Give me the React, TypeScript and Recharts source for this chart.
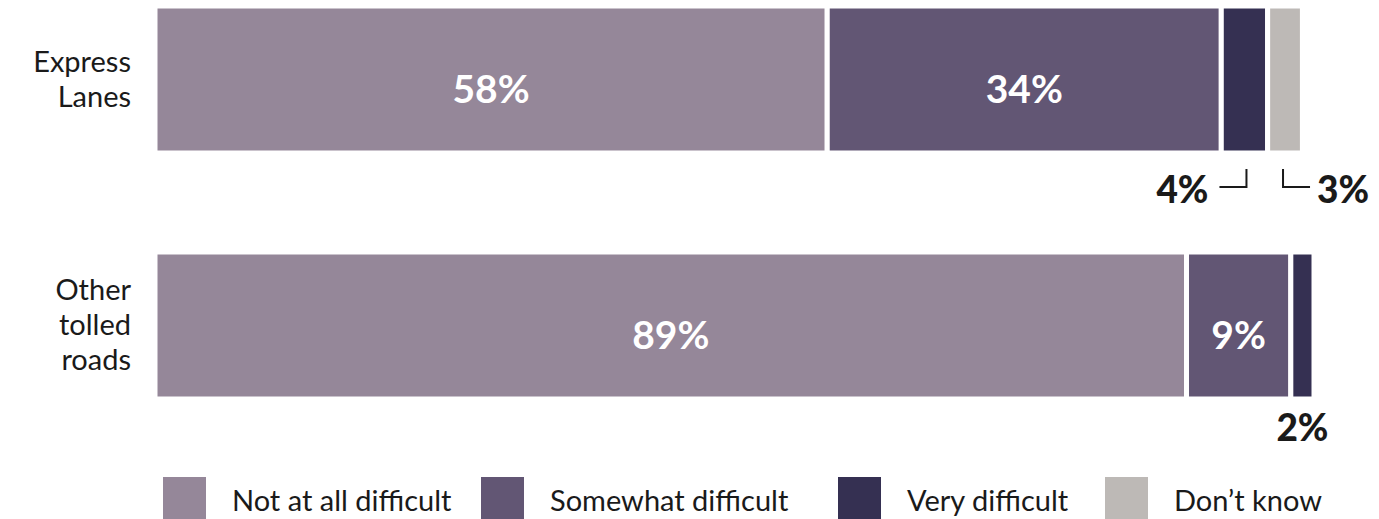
import { BarChart, Bar, XAxis, YAxis, LabelList, Legend } from 'recharts';

const categories = ['Express Lanes', 'Other tolled roads'];
const categoryLines = [['Express', 'Lanes'], ['Other', 'tolled', 'roads']];

const notAtAll = [58, 89];
const somewhat = [34, 9];
const veryDifficult = [4, 2];
const dontKnow: (number | null)[] = [3, null];

const seriesNames = ['Not at all difficult', 'Somewhat difficult', 'Very difficult', 'Don\u2019t know'];
const seriesKeys = ['notAtAll', 'somewhat', 'veryDifficult', 'dontKnow'];
const colors = ['#958799', '#625674', '#353052', '#bdb9b6'];

const data = categories.map((name, i) => ({
  name,
  notAtAll: notAtAll[i],
  somewhat: somewhat[i],
  veryDifficult: veryDifficult[i],
  dontKnow: dontKnow[i],
}));

const FONT = 'Lato, "Open Sans", sans-serif';

// where the small segments put their callout labels, per row
const calloutSide: Record<string, (string | null)[]> = {
  veryDifficult: ['left', 'below'],
  dontKnow: ['right', null],
};

// legend item widths (swatch + text + gap)
const legendWidths = [318, 357, 267, 220];

const CategoryTick = (props: any) => {
  const { x, y, payload } = props;
  const lines = categoryLines[categories.indexOf(payload.value)] || [payload.value];
  const lh = 35;
  const start = y - ((lines.length - 1) * lh) / 2;
  return (
    <text x={x} textAnchor="end" fontFamily={FONT} fontSize={29} fill="#1a1a1a">
      {lines.map((l, i) => (
        <tspan key={i} x={x} y={start + i * lh} dy="0.35em">
          {l}
        </tspan>
      ))}
    </text>
  );
};

const InsideLabel = (props: any) => {
  const { x, y, width, height, value } = props;
  if (value == null) return null;
  return (
    <text
      x={Number(x) + Number(width) / 2}
      y={Number(y) + Number(height) / 2 + 23}
      textAnchor="middle"
      fontFamily={FONT}
      fontSize={39}
      fontWeight={700}
      fill="#ffffff"
    >
      {`${value}%`}
    </text>
  );
};

const makeCallout = (key: string) => (props: any) => {
  const { x, y, width, height, value, index } = props;
  if (value == null || value === 0) return null;
  const side = calloutSide[key]?.[index];
  if (!side) return null;
  const cx = Number(x) + Number(width) / 2;
  const bottom = Number(y) + Number(height);
  const textProps = {
    fontFamily: FONT,
    fontSize: 37,
    fontWeight: 900,
    fill: '#1a1a1a',
  };
  if (side === 'below') {
    return (
      <text x={cx} y={bottom + 42} textAnchor="middle" {...textProps}>
        {`${value}%`}
      </text>
    );
  }
  if (side === 'left') {
    return (
      <g>
        <path d={`M${cx + 2},${bottom + 16} V${bottom + 34} H${cx - 25}`} stroke="#1a1a1a" strokeWidth={2} fill="none" />
        <text x={cx - 36} y={bottom + 50} textAnchor="end" {...textProps}>
          {`${value}%`}
        </text>
      </g>
    );
  }
  return (
    <g>
      <path d={`M${cx - 2},${bottom + 16} V${bottom + 34} H${cx + 25}`} stroke="#1a1a1a" strokeWidth={2} fill="none" />
      <text x={cx + 32} y={bottom + 50} textAnchor="start" {...textProps}>
        {`${value}%`}
      </text>
    </g>
  );
};

const LegendContent = () => (
  <div
    style={{
      display: 'flex',
      height: 80,
      paddingTop: 29,
      paddingLeft: 155,
      boxSizing: 'border-box',
      fontFamily: FONT,
      fontSize: 29,
      color: '#1a1a1a',
    }}
  >
    {seriesNames.map((n, i) => (
      <div key={n} style={{ display: 'flex', alignItems: 'flex-start', width: legendWidths[i], flexShrink: 0 }}>
        <div style={{ width: 43, height: 43, background: colors[i], marginRight: 26, flexShrink: 0 }} />
        <span style={{ lineHeight: '43px', marginTop: 1, whiteSpace: 'nowrap' }}>{n}</span>
      </div>
    ))}
  </div>
);

export default function App() {
  return (
    <div style={{ position: 'relative', width: 1371, height: 511, overflow: 'hidden' }}>
      <div style={{ marginTop: -52 }}>
        <BarChart
          width={1371}
          height={572}
          data={data}
          layout="vertical"
          margin={{ top: 0, right: 65, left: 0, bottom: 0 }}
          barSize={147}
        >
          <XAxis type="number" domain={[0, 100]} hide />
          <YAxis
            type="category"
            dataKey="name"
            width={147}
            axisLine={false}
            tickLine={false}
            tickSize={0}
            tickMargin={24}
            tick={<CategoryTick />}
          />
          <Legend verticalAlign="bottom" content={<LegendContent />} wrapperStyle={{ left: 0, width: 1371 }} />
          {seriesKeys.map((key, i) => (
            <Bar
              key={key}
              dataKey={key}
              name={seriesNames[i]}
              stackId="a"
              fill={colors[i]}
              stroke="#ffffff"
              strokeWidth={5}
              isAnimationActive={false}
            >
              {i < 2 ? (
                <LabelList dataKey={key} content={InsideLabel} />
              ) : (
                <LabelList dataKey={key} content={makeCallout(key)} />
              )}
            </Bar>
          ))}
        </BarChart>
      </div>
    </div>
  );
}
